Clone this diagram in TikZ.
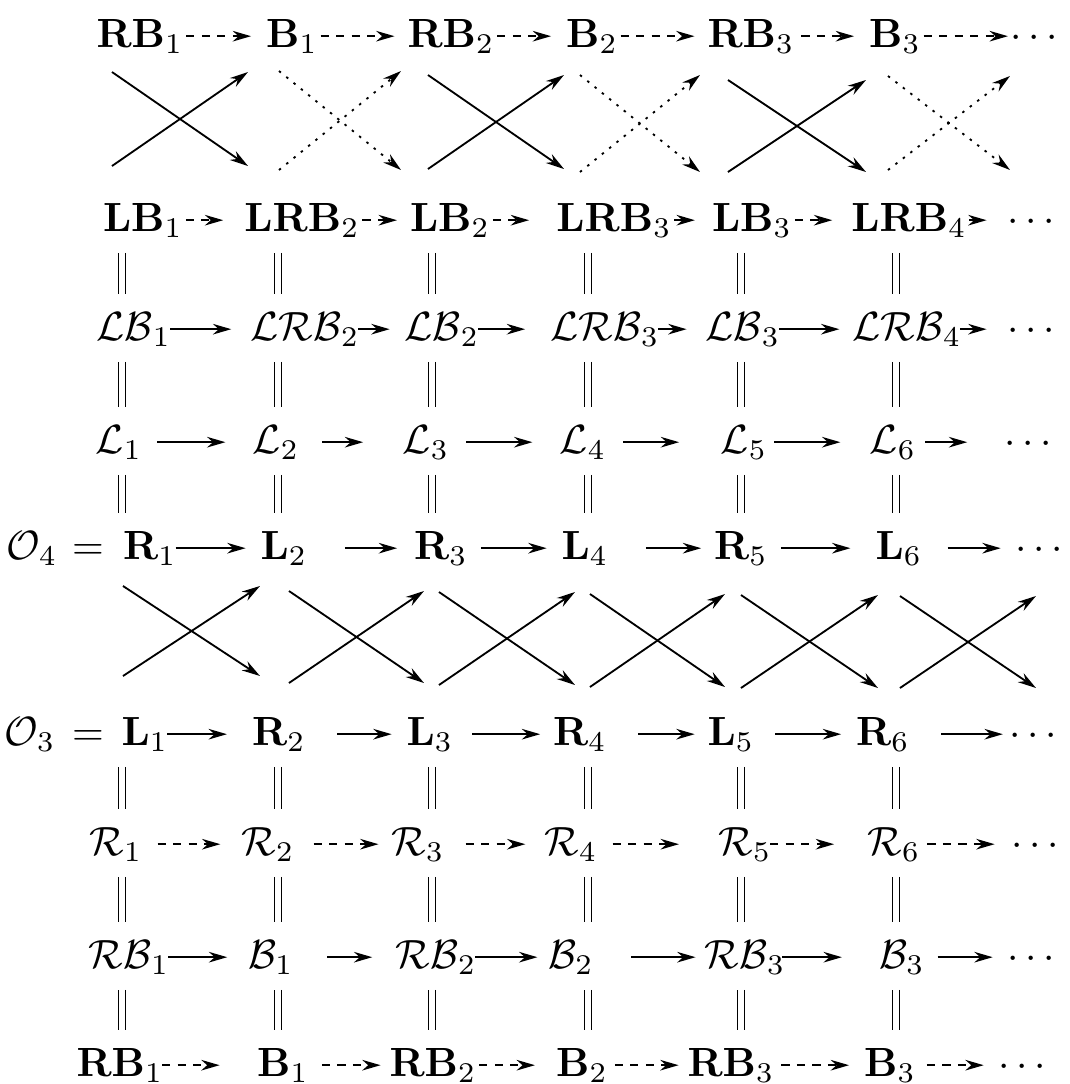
\documentclass[tikz,border=0pt]{standalone}
\usepackage{amsmath, amssymb}
\usepackage{tikz}
\usetikzlibrary{arrows.meta}

\begin{document}
\begin{tikzpicture}[
    x=24.5pt, y=24.5pt,
    ent/.style={inner sep=0.5pt, anchor=base, text height=6.9pt, text depth=1.6pt},
    sarr/.style={-{Stealth[length=4.5pt, width=2.6pt]}, line width=0.45pt},
    darr/.style={sarr, dash pattern=on 2pt off 1.8pt},
    parr/.style={sarr, dash pattern=on 0.6pt off 1.7pt},
    eqline/.style={double, double distance=1.3pt, line width=0.45pt,
                   shorten <=8pt, shorten >=8.6pt},
    gap/.style 2 args={shorten <=#1pt, shorten >=#2pt}
]
  \useasboundingbox (0,0) rectangle (10.69,-10.84);

  % Nodes: top row
  \node[ent] (t1) at (1.40,-0.47) {$\mathbf{RB}_1$};
  \node[ent] (t2) at (2.92,-0.47) {$\mathbf{B}_1$};
  \node[ent] (t3) at (4.51,-0.47) {$\mathbf{RB}_2$};
  \node[ent] (t4) at (5.92,-0.47) {$\mathbf{B}_2$};
  \node[ent] (t5) at (7.51,-0.47) {$\mathbf{RB}_3$};
  \node[ent] (t6) at (8.95,-0.47) {$\mathbf{B}_3$};
  \node[ent] (tdots) at (10.38,-0.47) {$\cdots$};

  % LB row
  \node[ent] (lb1) at (1.43,-2.31) {$\mathbf{LB}_1$};
  \node[ent] (lb2) at (3.02,-2.31) {$\mathbf{LRB}_2$};
  \node[ent] (lb3) at (4.50,-2.31) {$\mathbf{LB}_2$};
  \node[ent] (lb4) at (6.14,-2.31) {$\mathbf{LRB}_3$};
  \node[ent] (lb5) at (7.52,-2.31) {$\mathbf{LB}_3$};
  \node[ent] (lb6) at (9.09,-2.31) {$\mathbf{LRB}_4$};
  \node[ent] (lbdots) at (10.35,-2.31) {$\cdots$};

  \node[ent] (clb1) at (1.34,-3.40) {$\mathcal{LB}_1$};
  \node[ent] (clb2) at (3.05,-3.40) {$\mathcal{LRB}_2$};
  \node[ent] (clb3) at (4.42,-3.40) {$\mathcal{LB}_2$};
  \node[ent] (clb4) at (6.05,-3.40) {$\mathcal{LRB}_3$};
  \node[ent] (clb5) at (7.43,-3.40) {$\mathcal{LB}_3$};
  \node[ent] (clb6) at (9.07,-3.40) {$\mathcal{LRB}_4$};
  \node[ent] (clbdots) at (10.35,-3.40) {$\cdots$};

  \node[ent] (ll1) at (1.19,-4.53) {$\mathcal{L}_1$};
  \node[ent] (ll2) at (2.76,-4.53) {$\mathcal{L}_2$};
  \node[ent] (ll3) at (4.26,-4.53) {$\mathcal{L}_3$};
  \node[ent] (ll4) at (5.83,-4.53) {$\mathcal{L}_4$};
  \node[ent] (ll5) at (7.44,-4.53) {$\mathcal{L}_5$};
  \node[ent] (ll6) at (8.93,-4.53) {$\mathcal{L}_6$};
  \node[ent] (lldots) at (10.32,-4.53) {$\cdots$};

  % O4 and O3 rows
  \node[ent] (o4) at (0.32,-5.59) {$\mathcal{O}_4$};
  \node[ent] (eqa) at (0.88,-5.59) {$=$};
  \node[ent] (oa1) at (1.50,-5.59) {$\mathbf{R}_1$};
  \node[ent] (oa2) at (2.84,-5.59) {$\mathbf{L}_2$};
  \node[ent] (oa3) at (4.41,-5.59) {$\mathbf{R}_3$};
  \node[ent] (oa4) at (5.85,-5.59) {$\mathbf{L}_4$};
  \node[ent] (oa5) at (7.41,-5.59) {$\mathbf{R}_5$};
  \node[ent] (oa6) at (8.99,-5.59) {$\mathbf{L}_6$};
  \node[ent] (oadots) at (10.43,-5.59) {$\cdots$};

  \node[ent] (o3) at (0.30,-7.45) {$\mathcal{O}_3$};
  \node[ent] (eqb) at (0.88,-7.45) {$=$};
  \node[ent] (ob1) at (1.45,-7.45) {$\mathbf{L}_1$};
  \node[ent] (ob2) at (2.79,-7.45) {$\mathbf{R}_2$};
  \node[ent] (ob3) at (4.30,-7.45) {$\mathbf{L}_3$};
  \node[ent] (ob4) at (5.80,-7.45) {$\mathbf{R}_4$};
  \node[ent] (ob5) at (7.31,-7.45) {$\mathbf{L}_5$};
  \node[ent] (ob6) at (8.83,-7.45) {$\mathbf{R}_6$};
  \node[ent] (obdots) at (10.37,-7.45) {$\cdots$};

  \node[ent] (cr1) at (1.16,-8.55) {$\mathcal{R}_1$};
  \node[ent] (cr2) at (2.68,-8.55) {$\mathcal{R}_2$};
  \node[ent] (cr3) at (4.18,-8.55) {$\mathcal{R}_3$};
  \node[ent] (cr4) at (5.71,-8.55) {$\mathcal{R}_4$};
  \node[ent] (cr5) at (7.45,-8.55) {$\mathcal{R}_5$};
  \node[ent] (cr6) at (8.94,-8.55) {$\mathcal{R}_6$};
  \node[ent] (crdots) at (10.39,-8.55) {$\cdots$};

  \node[ent] (crb1) at (1.29,-9.68) {$\mathcal{RB}_1$};
  \node[ent] (crb2) at (2.71,-9.68) {$\mathcal{B}_1$};
  \node[ent] (crb3) at (4.36,-9.68) {$\mathcal{RB}_2$};
  \node[ent] (crb4) at (5.71,-9.68) {$\mathcal{B}_2$};
  \node[ent] (crb5) at (7.45,-9.68) {$\mathcal{RB}_3$};
  \node[ent] (crb6) at (9.02,-9.68) {$\mathcal{B}_3$};
  \node[ent] (crbdots) at (10.35,-9.68) {$\cdots$};

  % bottom row
  \node[ent] (bot1) at (1.20,-10.76) {$\mathbf{RB}_1$};
  \node[ent] (bot2) at (2.83,-10.76) {$\mathbf{B}_1$};
  \node[ent] (bot3) at (4.33,-10.76) {$\mathbf{RB}_2$};
  \node[ent] (bot4) at (5.82,-10.76) {$\mathbf{B}_2$};
  \node[ent] (bot5) at (7.31,-10.76) {$\mathbf{RB}_3$};
  \node[ent] (bot6) at (8.90,-10.76) {$\mathbf{B}_3$};
  \node[ent] (botdots) at (10.26,-10.76) {$\cdots$};

  % columns of the equalities
  \coordinate (k1) at (1.22,0);
  \coordinate (k2) at (2.78,0);
  \coordinate (k3) at (4.32,0);
  \coordinate (k4) at (5.88,0);
  \coordinate (k5) at (7.41,0);
  \coordinate (k6) at (8.96,0);

  % Arrows along the rows
  \path[darr] (t1) edge[gap={0}{3}] (t2)    (t2) edge[gap={0}{2.5}] (t3)
              (t3) edge[gap={0}{3}] (t4)    (t4) edge[gap={0}{2.5}] (t5)
              (t5) edge[gap={1}{3}] (t6)    (t6) edge[gap={0}{0}] (tdots);
  \path[darr] (lb1) edge[gap={0}{4.5}] (lb2)  (lb2) edge[gap={0}{2.5}] (lb3)
              (lb3) edge[gap={0}{6}] (lb4)    (lb4) edge[gap={0}{3.5}] (lb5)
              (lb5) edge[gap={0}{4}] (lb6)    (lb6) edge[gap={0}{4.5}] (lbdots);
  \path[sarr] (clb1) edge[gap={-1}{4}] (clb2)   (clb2) edge[gap={-1}{3}] (clb3)
              (clb3) edge[gap={-1}{5.5}] (clb4) (clb4) edge[gap={-1}{4}] (clb5)
              (clb5) edge[gap={-1}{2.5}] (clb6) (clb6) edge[gap={-1}{4.5}] (clbdots);
  \path[sarr] (ll1) edge[gap={3}{6}] (ll2)     (ll2) edge[gap={5}{9}] (ll3)
              (ll3) edge[gap={3.5}{6}] (ll4)   (ll4) edge[gap={3.5}{9.5}] (ll5)
              (ll5) edge[gap={1}{6.5}] (ll6)   (ll6) edge[gap={1.5}{8.5}] (lldots);
  \path[sarr] (oa1) edge[gap={-1}{3}] (oa2)    (oa2) edge[gap={8.5}{3.5}] (oa3)
              (oa3) edge[gap={2.5}{3}] (oa4)   (oa4) edge[gap={8.5}{2.5}] (oa5)
              (oa5) edge[gap={2.5}{5.5}] (oa6) (oa6) edge[gap={5.5}{3}] (oadots);
  \path[sarr] (ob1) edge[gap={-1}{5.5}] (ob2)  (ob2) edge[gap={7}{3}] (ob3)
              (ob3) edge[gap={4}{2.5}] (ob4)   (ob4) edge[gap={7}{2.5}] (ob5)
              (ob5) edge[gap={4.5}{3}] (ob6)   (ob6) edge[gap={7}{1}] (obdots);
  \path[darr] (cr1) edge[gap={3}{4.5}] (cr2)   (cr2) edge[gap={4}{2.5}] (cr3)
              (cr3) edge[gap={4.5}{4}] (cr4)   (cr4) edge[gap={3}{9}] (cr5)
              (cr5) edge[gap={-1}{7.5}] (cr6)  (cr6) edge[gap={1}{3.5}] (crdots);
  \path[sarr] (crb1) edge[gap={-1}{4.5}] (crb2)  (crb2) edge[gap={7.5}{5}] (crb3)
              (crb3) edge[gap={-1}{2}] (crb4)    (crb4) edge[gap={8.5}{1.5}] (crb5)
              (crb5) edge[gap={-1.5}{8.5}] (crb6) (crb6) edge[gap={2.5}{3}] (crbdots);
  \path[darr] (bot1) edge[gap={-1}{8.5}] (bot2)  (bot2) edge[gap={2.5}{1.5}] (bot3)
              (bot3) edge[gap={0}{4.5}] (bot4)   (bot4) edge[gap={1}{1.5}] (bot5)
              (bot5) edge[gap={1}{3}] (bot6)     (bot6) edge[gap={2}{3}] (botdots);

  % Equalities
  \foreach \i in {1,...,6} {
    \draw[eqline] (lb\i -| k\i) -- (clb\i -| k\i);
    \draw[eqline] (clb\i -| k\i) -- (ll\i -| k\i);
    \draw[eqline] (ll\i -| k\i) -- (oa\i -| k\i);
    \draw[eqline] (ob\i -| k\i) -- (cr\i -| k\i);
    \draw[eqline] (cr\i -| k\i) -- (crb\i -| k\i);
    \draw[eqline] (crb\i -| k\i) -- (bot\i -| k\i);
  }

  % Crossings between the two top rows
  \foreach \xl/\xr/\yt/\yb/\sty [count=\i] in {
      1.12/2.48/0.72/1.66/sarr, 2.79/4.01/0.71/1.70/parr,
      4.28/5.64/0.75/1.69/sarr, 5.80/7.00/0.75/1.72/parr,
      7.28/8.66/0.80/1.72/sarr, 8.88/10.10/0.76/1.70/parr} {
    \coordinate (xa\i) at (\xl,-\yt);
    \coordinate (xb\i) at (\xr,-\yb);
    \coordinate (xc\i) at (\xl,-\yb);
    \coordinate (xd\i) at (\xr,-\yt);
    \draw[\sty] (xa\i) -- (xb\i);
    \draw[\sty] (xc\i) -- (xd\i);
  }

  % Crossings between O4 and O3
  \foreach \xl/\xr/\yt/\yb [count=\i] in {
      1.23/2.60/5.86/6.76, 2.89/4.24/5.91/6.83, 4.39/5.75/5.92/6.85,
      5.90/7.25/5.94/6.87, 7.41/8.78/5.95/6.88, 9.00/10.36/5.96/6.88} {
    \coordinate (ya\i) at (\xl,-\yt);
    \coordinate (yb\i) at (\xr,-\yb);
    \coordinate (yc\i) at (\xl,-\yb);
    \coordinate (yd\i) at (\xr,-\yt);
    \draw[sarr] (ya\i) -- (yb\i);
    \draw[sarr] (yc\i) -- (yd\i);
  }
\end{tikzpicture}
\end{document}
